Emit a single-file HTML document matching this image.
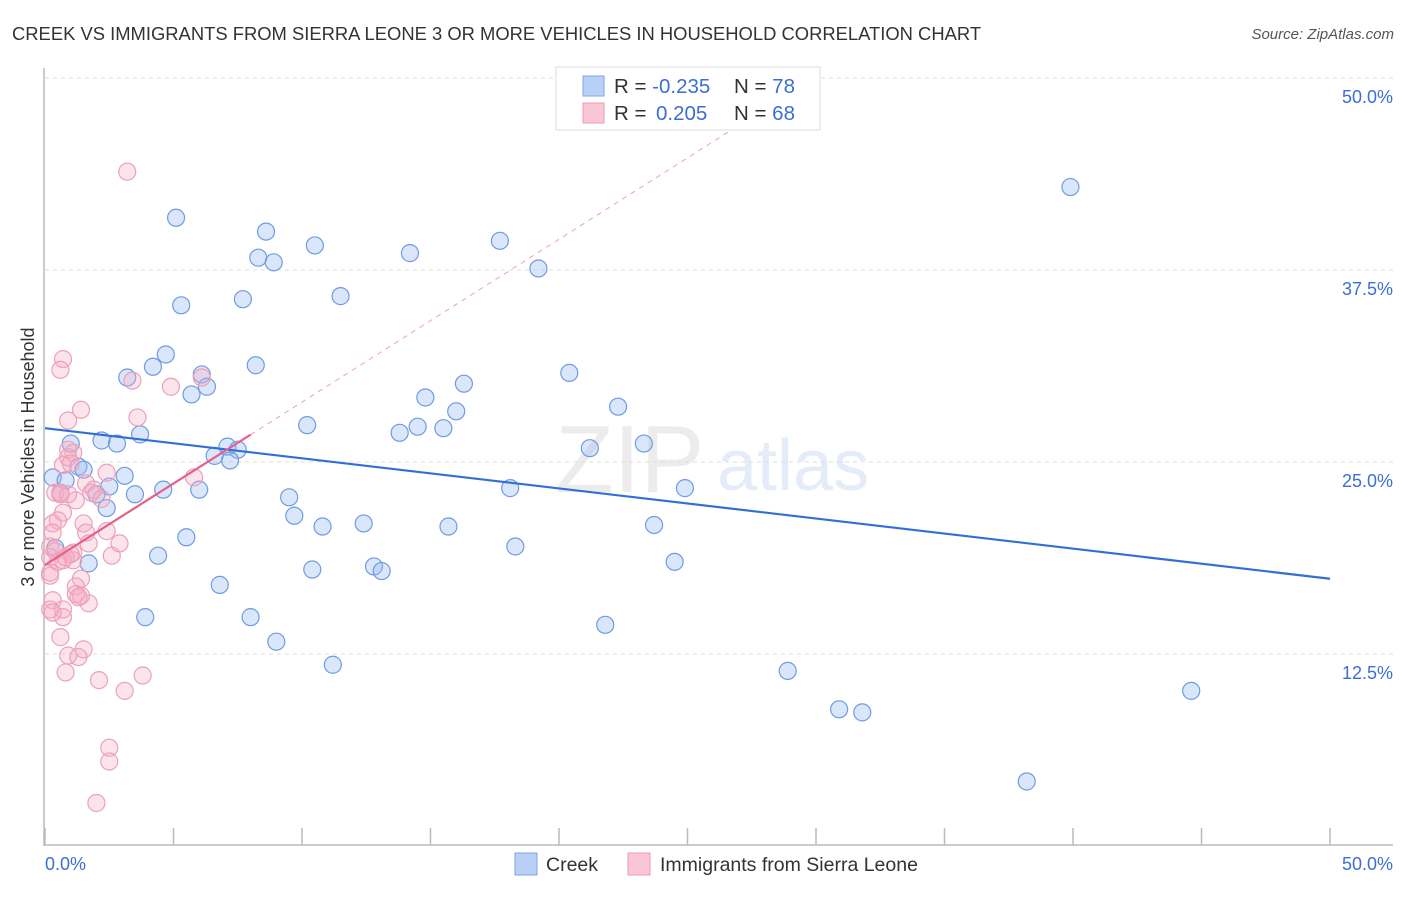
<!DOCTYPE html>
<html><head><meta charset="utf-8"><style>
body{margin:0;background:#fff;font-family:"Liberation Sans",sans-serif}
svg text{font-family:"Liberation Sans",sans-serif}
</style></head><body>
<svg id="chart" width="1406" height="892" xmlns="http://www.w3.org/2000/svg">
<text x="12" y="40" font-size="18.4" fill="#333">CREEK VS IMMIGRANTS FROM SIERRA LEONE 3 OR MORE VEHICLES IN HOUSEHOLD CORRELATION CHART</text>
<text x="1394" y="39" font-size="15" fill="#555" text-anchor="end" font-style="italic">Source: ZipAtlas.com</text>
<g opacity="0.13">
<text x="555" y="492" font-size="96" font-family="Liberation Serif" fill="#777">ZIP</text>
<text x="717" y="490" font-size="72" fill="#3b6fd4">atlas</text>
</g>
<g id="grid"></g>
<line x1="44" y1="68" x2="44" y2="846" stroke="#bbb" stroke-width="1.5"/>
<line x1="44" y1="845" x2="1393" y2="845" stroke="#bbb" stroke-width="1.5"/>
<g id="xticks"></g>
<text transform="translate(34,457) rotate(-90)" font-size="18" fill="#333" text-anchor="middle">3 or more Vehicles in Household</text>
<text x="45" y="870" font-size="18" fill="#3b6fd4">0.0%</text>
<text x="1393" y="870" font-size="18" fill="#3b6fd4" text-anchor="end">50.0%</text>
<g id="points"></g>
<g id="trends"></g>
<g>
<rect x="556" y="67" width="264" height="63" fill="#fff" stroke="#ddd"/>
<rect x="583" y="76" width="21" height="20" fill="#b8d0f5" stroke="#7fa6e6"/>
<rect x="583" y="103" width="21" height="20" fill="#f9c6d5" stroke="#ee9ab4"/>
<text x="614" y="93" font-size="20.5" fill="#333">R = <tspan fill="#3b6fd4">-0.235</tspan><tspan x="734">N = </tspan><tspan fill="#3b6fd4">78</tspan></text>
<text x="614" y="120" font-size="20.5" fill="#333">R = <tspan x="656" fill="#3b6fd4">0.205</tspan><tspan x="734">N = </tspan><tspan fill="#3b6fd4">68</tspan></text>
</g>
<g>
<rect x="515" y="853" width="22" height="22" fill="#b8d0f5" stroke="#7fa6e6"/>
<text x="546" y="871" font-size="19.5" fill="#333">Creek</text>
<rect x="628" y="853" width="22" height="22" fill="#f9c6d5" stroke="#ee9ab4"/>
<text x="660" y="871" font-size="19.5" fill="#333">Immigrants from Sierra Leone</text>
</g>
</svg>
<script>
const yTicks=[12.5,25,37.5,50];
const yTickLabels=["12.5%","25.0%","37.5%","50.0%"];
const xTicks=[0,5,10,15,20,25,30,35,40,45,50];
const creekX=[39.9,5.1,8.6,10.5,8.3,8.9,14.2,17.7,19.2,11.5,7.7,5.3,4.7,4.2,8.2,3.2,6.1,6.3,5.7,16.3,20.4,14.8,16.0,22.3,10.2,14.5,15.5,13.8,3.7,2.2,2.8,1.0,23.3,21.2,7.1,7.5,6.6,7.2,1.3,1.5,0.3,3.1,0.8,2.5,4.6,6.0,24.9,18.1,0.6,3.5,2.0,9.5,2.4,9.7,10.8,12.4,15.7,23.7,5.5,18.3,0.4,4.4,1.7,24.5,10.4,12.8,13.1,6.8,3.9,8.0,21.8,9.0,11.2,28.9,44.6,30.9,31.8,38.2];
const creekY=[42.9,40.9,40.0,39.1,38.3,38.0,38.6,39.4,37.6,35.8,35.6,35.2,32.0,31.2,31.3,30.5,30.7,29.9,29.4,30.1,30.8,29.2,28.3,28.6,27.4,27.3,27.2,26.9,26.8,26.4,26.2,26.2,26.2,25.9,26.0,25.8,25.4,25.1,24.7,24.5,24.0,24.1,23.8,23.4,23.2,23.2,23.3,23.3,23.0,22.9,22.9,22.7,22.0,21.5,20.8,21.0,20.8,20.9,20.1,19.5,19.4,18.9,18.4,18.5,18.0,18.2,17.9,17.0,14.9,14.9,14.4,13.3,11.8,11.4,10.1,8.9,8.7,4.2];
const sierraX=[3.2,0.7,0.6,3.4,6.1,4.9,1.4,0.9,3.6,0.9,1.1,0.7,0.9,1.6,2.4,0.4,0.6,1.9,1.2,5.8,0.7,0.5,1.5,0.3,2.4,1.6,0.3,1.7,0.2,2.6,1.1,0.2,0.7,1.1,0.2,1.4,1.2,1.7,0.3,0.2,0.7,0.7,0.6,1.5,0.9,1.3,0.8,2.1,3.8,3.1,2.5,2.5,2.0,1.2,0.4,0.9,1.8,0.5,1.0,0.3,1.4,0.6,2.2,0.8,1.3,0.2,1.0,2.9];
const sierraY=[43.9,31.7,31.0,30.3,30.5,29.9,28.4,27.7,27.9,25.8,25.6,24.8,25.3,23.6,24.3,23.0,23.0,23.2,22.5,24.0,21.7,21.2,21.0,21.0,20.5,20.4,20.4,19.7,19.5,18.9,19.1,18.8,18.6,18.6,17.8,17.4,16.9,15.8,16.0,15.4,15.4,14.9,13.6,12.8,12.4,12.3,11.3,10.8,11.1,10.1,6.4,5.5,2.8,16.4,19.2,22.9,23.0,18.5,19.0,15.2,16.3,22.9,22.6,18.8,16.2,17.6,24.9,19.7];
const creekTrend=[27.2,17.4];
const sierraTrend=[18.3,1.06];
const NS="http://www.w3.org/2000/svg";
const X=v=>45+v/50*1285;
const Y=v=>846-v/50*768;
function mk(t,a){const e=document.createElementNS(NS,t);for(const k in a)e.setAttribute(k,a[k]);return e;}
const grid=document.getElementById('grid');
yTicks.forEach((t,i)=>{
 const l=mk('line',{x1:45,x2:1393,y1:Y(t),y2:Y(t),stroke:'#ddd','stroke-dasharray':'4,4'});
 
 
 grid.appendChild(l);
 const tx=mk('text',{x:1393,y:Y(t)+25,'font-size':18,fill:'#3b6fd4','text-anchor':'end'});
 tx.textContent=yTickLabels[i];
 
 
 grid.appendChild(tx);
});
const xt=document.getElementById('xticks');
xTicks.forEach(t=>{
 const l=mk('line',{x1:X(t),x2:X(t),y1:828,y2:845,stroke:'#bbb','stroke-width':1.5});
 
 
 xt.appendChild(l);
});
const pts=document.getElementById('points');
creekX.forEach((x,i)=>{
 const c=mk('circle',{cx:X(x),cy:Y(creekY[i]),r:8.5,fill:'rgba(150,185,240,0.35)',stroke:'#6f9be3','stroke-width':1.2});
 
 
 pts.appendChild(c);
});
sierraX.forEach((x,i)=>{
 const c=mk('circle',{cx:X(x),cy:Y(sierraY[i]),r:8.5,fill:'rgba(245,170,195,0.32)',stroke:'#eea0b8','stroke-width':1.2});
 
 
 pts.appendChild(c);
});
const tr=document.getElementById('trends');
const b=mk('line',{x1:X(0),y1:Y(creekTrend[0]),x2:X(50),y2:Y(creekTrend[1]),stroke:'#2f6fd6','stroke-width':2.2});


tr.appendChild(b);
const pd=mk('line',{x1:X(8),y1:Y(sierraTrend[0]+sierraTrend[1]*8),x2:X(29),y2:Y(sierraTrend[0]+sierraTrend[1]*29),stroke:'#eea0b8','stroke-width':1,'stroke-dasharray':'5,5'});


tr.appendChild(pd);
const p=mk('line',{x1:X(0),y1:Y(sierraTrend[0]),x2:X(8),y2:Y(sierraTrend[0]+sierraTrend[1]*8),stroke:'#e5608a','stroke-width':2.2});


tr.appendChild(p);
</script>
</body></html>
